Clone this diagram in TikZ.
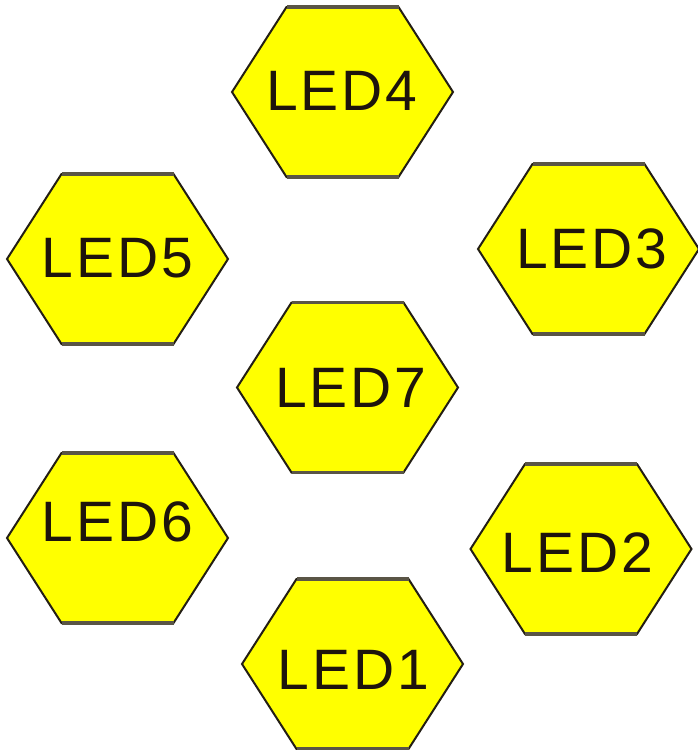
\documentclass[tikz,border=0pt]{standalone}
\usepackage{fontspec}
\setmainfont{Liberation Sans}
\usepackage{xcolor}
\usepackage{tikz}
\usetikzlibrary{calc}
\definecolor{ledfill}{RGB}{255,255,0}
\definecolor{ledline}{RGB}{35,30,20}
\definecolor{ledtop}{RGB}{90,85,70}
\definecolor{ledink}{RGB}{30,20,12}

\begin{document}
\begin{tikzpicture}[x=1pt,y=-1pt,
  hexled/.style={fill=ledfill,draw=ledline,line width=2pt,line join=miter},
  hexedge/.style={draw=ledtop,line width=3.2pt},
  ledtext/.style={inner sep=0pt,text=ledink,font=\fontsize{57}{60}\selectfont\addfontfeature{LetterSpace=5}}]
\useasboundingbox (0,0) rectangle (697,750);
% hexagons: number / centre / text centre
\foreach \n/\x/\y/\tx/\ty in {4/342.5/92/342/91,5/117.5/259/117.5/258,3/588.5/249/592/248.5,7/347.5/387.5/351/387.5,6/117.5/538/117.5/522,2/581/549/577.5/553,1/352.5/664/353.5/670} {
  \coordinate (hex\n) at (\x,\y);
  \draw[hexled] ($(hex\n)+(-110.5,0)$) -- ++(54.5,-85) -- ++(112,0) -- ++(54.5,85) -- ++(-54.5,85) -- ++(-112,0) -- cycle;
  \draw[hexedge] ($(hex\n)+(-56,-85)$) -- ++(112,0);
  \draw[hexedge] ($(hex\n)+(-56,85)$) -- ++(112,0);
  \node[ledtext] (led\n) at (\tx,\ty) {LED\n};
}
\end{tikzpicture}
\end{document}
